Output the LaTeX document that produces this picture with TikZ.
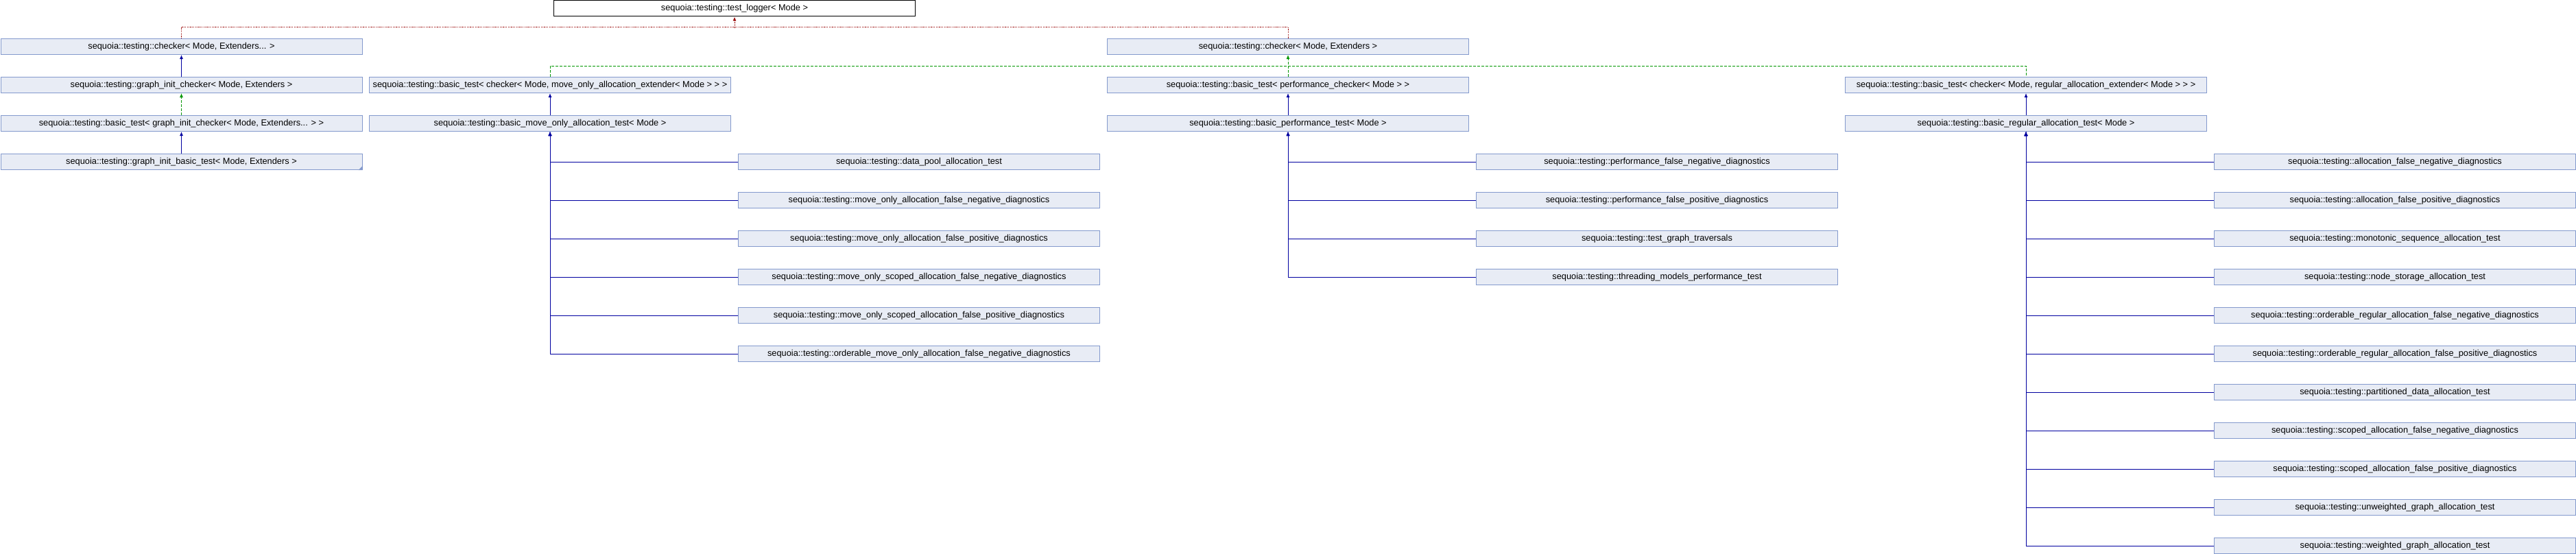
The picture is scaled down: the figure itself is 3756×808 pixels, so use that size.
\documentclass[tikz,border=0pt]{standalone}
\usepackage{fontspec}
\setmainfont{Liberation Sans}
\usetikzlibrary{arrows.meta}
\definecolor{boxfill}{RGB}{232,236,245}
\definecolor{boxdraw}{RGB}{132,154,205}
\definecolor{pubblue}{RGB}{0,0,160}
\definecolor{protgreen}{RGB}{0,150,0}
\definecolor{privred}{RGB}{150,0,0}

\begin{document}
\begin{tikzpicture}[x=1pt, y=-1pt, >={Latex[length=6pt,width=5pt]},
		cls/.style={draw=boxdraw, fill=boxfill, line width=1pt, minimum width=527pt, minimum height=23pt,
			inner sep=0pt, anchor=north west, font=\fontsize{12.8}{14}\selectfont},
		publine/.style={draw=pubblue, line width=1pt},
		protline/.style={draw=protgreen, line width=1pt, dash pattern=on 4pt off 2pt},
		privline/.style={draw=privred, line width=1pt, dash pattern=on 1.2pt off 1.2pt}]
	\useasboundingbox (0,0) rectangle (3756,808);
	% top
	\node[cls, draw=black, fill=white] (logger) at (807,0.5) {sequoia::testing::test\_logger< Mode >};
	% first column
	\node[cls] (checkerX) at (0.5,56) {sequoia::testing::checker< Mode, Extenders... >};
	\node[cls] (ginitchk) at (0.5,112) {sequoia::testing::graph\_init\_checker< Mode, Extenders >};
	\node[cls] (btginit) at (0.5,168) {sequoia::testing::basic\_test< graph\_init\_checker< Mode, Extenders... > >};
	\node[cls] (ginitbt) at (0.5,224) {sequoia::testing::graph\_init\_basic\_test< Mode, Extenders >};
	\fill[boxdraw] (ginitbt.south east) -- ++(-6,0) -- ++(6,-6) -- cycle;
	% move only
	\node[cls] (btmove) at (538,112) {sequoia::testing::basic\_test< checker< Mode, move\_only\_allocation\_extender< Mode > > >};
	\node[cls] (bmove) at (538,168) {sequoia::testing::basic\_move\_only\_allocation\_test< Mode >};
	\foreach \t [count=\i from 4] in {data\_pool\_allocation\_test, move\_only\_allocation\_false\_negative\_diagnostics,
			move\_only\_allocation\_false\_positive\_diagnostics, move\_only\_scoped\_allocation\_false\_negative\_diagnostics,
			move\_only\_scoped\_allocation\_false\_positive\_diagnostics, orderable\_move\_only\_allocation\_false\_negative\_diagnostics}
		\node[cls] (mv\i) at (1076,56*\i) {sequoia::testing::\t};
	% performance
	\node[cls] (checkerE) at (1614,56) {sequoia::testing::checker< Mode, Extenders >};
	\node[cls] (btperf) at (1614,112) {sequoia::testing::basic\_test< performance\_checker< Mode > >};
	\node[cls] (bperf) at (1614,168) {sequoia::testing::basic\_performance\_test< Mode >};
	\foreach \t [count=\i from 4] in {performance\_false\_negative\_diagnostics, performance\_false\_positive\_diagnostics,
			test\_graph\_traversals, threading\_models\_performance\_test}
		\node[cls] (pf\i) at (2152,56*\i) {sequoia::testing::\t};
	% regular allocation
	\node[cls] (btreg) at (2690,112) {sequoia::testing::basic\_test< checker< Mode, regular\_allocation\_extender< Mode > > >};
	\node[cls] (breg) at (2690,168) {sequoia::testing::basic\_regular\_allocation\_test< Mode >};
	\foreach \t [count=\i from 4] in {allocation\_false\_negative\_diagnostics, allocation\_false\_positive\_diagnostics,
			monotonic\_sequence\_allocation\_test, node\_storage\_allocation\_test,
			orderable\_regular\_allocation\_false\_negative\_diagnostics, orderable\_regular\_allocation\_false\_positive\_diagnostics,
			partitioned\_data\_allocation\_test, scoped\_allocation\_false\_negative\_diagnostics,
			scoped\_allocation\_false\_positive\_diagnostics, unweighted\_graph\_allocation\_test, weighted\_graph\_allocation\_test}
		\node[cls] (rg\i) at (3228,56*\i) {sequoia::testing::\t};
	% private (red dotted)
	\draw[privline] (checkerX.north) -- ++(0,-16) -| (checkerE.north);
	\draw[privline, <-] (logger.south) -- ++(0,16.5);
	% protected (green dashed)
	\draw[protline] (btmove.north) -- ++(0,-16) -| (btreg.north);
	\draw[protline, ->] (btperf.north) -- (checkerE.south);
	\draw[protline, ->] (btginit.north) -- (ginitchk.south);
	% public (blue)
	\draw[publine, ->] (ginitchk.north) -- (checkerX.south);
	\draw[publine, ->] (ginitbt.north) -- (btginit.south);
	\draw[publine, ->] (bmove.north) -- (btmove.south);
	\draw[publine, ->] (bperf.north) -- (btperf.south);
	\draw[publine, ->] (breg.north) -- (btreg.south);
	\foreach \i in {4,...,9} \draw[publine, ->] (mv\i.west) -| (bmove.south);
	\foreach \i in {4,...,7} \draw[publine, ->] (pf\i.west) -| (bperf.south);
	\foreach \i in {4,...,14} \draw[publine, ->] (rg\i.west) -| (breg.south);
\end{tikzpicture}
\end{document}
